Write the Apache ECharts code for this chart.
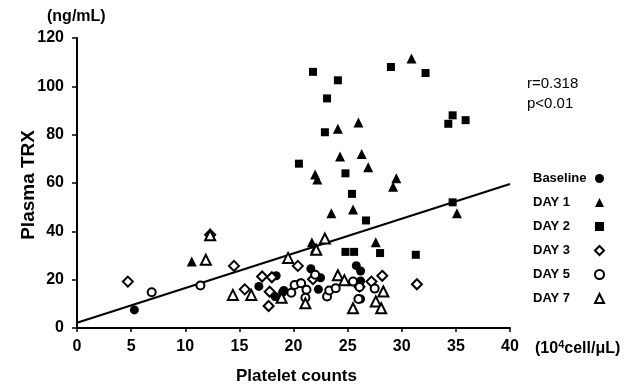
<!DOCTYPE html>
<html>
<head>
<meta charset="utf-8">
<script src="https://cdn.jsdelivr.net/npm/echarts@6/dist/echarts.min.js"></script>
<style>
  html, body { margin: 0; padding: 0; background: #fff; }
  #chart { width: 638px; height: 391px; }
</style>
</head>
<body>
<div id="chart"></div>
<script>
// platelet counts (x, 10^4 cell/uL) vs plasma TRX (y, ng/mL)
var baseline = [[5.3, 7.5], [16.8, 17.2], [18.4, 21.6], [18.3, 13], [19.1, 15.5], [20.6, 18.5],
  [21.6, 24.5], [22.5, 20.8], [22.3, 16], [25.8, 25.8], [26.2, 23.6], [26.2, 19.5], [26.2, 12], [19.0, 14.8]];
var day1 = [[10.6, 27.5], [22.0, 63.5], [22.2, 61.5], [24.1, 82.5], [26.0, 85], [24.3, 71], [26.3, 72],
  [26.9, 66.5], [30.9, 111.5], [29.5, 62], [29.2, 58.5], [25.5, 49], [23.5, 47.5], [35.1, 47.5],
  [27.6, 35.5], [21.7, 35.5], [22.0, 33]];
var day2 = [[21.8, 106], [24.1, 102.5], [23.1, 95], [22.9, 81], [20.5, 68], [29.0, 108], [32.2, 105.5],
  [34.7, 88], [34.3, 84.5], [35.9, 86], [24.8, 64], [25.4, 55.5], [26.7, 44.5], [34.7, 52],
  [24.8, 31.5], [25.6, 31.5], [28.0, 31], [31.3, 30.3]];
var day3 = [[4.7, 19.2], [12.3, 38.6], [14.5, 25.7], [15.5, 16], [17.1, 21.3], [18.0, 21], [17.8, 15],
  [17.7, 9.1], [20.4, 25.7], [21.8, 20.2], [26.1, 17.1], [27.2, 19.2], [28.2, 21.6], [31.4, 18.1]];
var day5 = [[6.9, 14.8], [11.4, 17.6], [19.8, 14.6], [20.1, 17.8], [20.7, 18.5], [21.2, 15.8], [21.1, 12.5],
  [22.0, 22], [23.1, 13], [23.3, 15.5], [23.9, 16.5], [25.5, 19.2], [26.1, 17], [26.0, 12], [27.5, 16.3]];
var day7 = [[11.9, 28.2], [12.3, 38.4], [14.4, 13.7], [16.1, 13.7], [19.5, 29], [18.9, 12.5], [21.1, 10.2],
  [22.1, 32.4], [22.9, 37], [24.1, 21.8], [24.7, 19.8], [25.5, 8.2], [27.6, 11], [28.1, 8.2], [28.3, 15.1]];
// regression line end points
var fitLine = [[0, 2.2], [40, 59.6]];

var seriesNames = ["Baseline", "DAY 1", "DAY 2", "DAY 3", "DAY 5", "DAY 7"];

var font = "'Liberation Sans', Arial, sans-serif";

var chart = echarts.init(document.getElementById("chart"), null, { renderer: "canvas" });

function pointSeries(name, data, symbol, size) {
  return {
    name: name,
    type: "scatter",
    data: data,
    symbol: symbol,
    symbolSize: size,
    itemStyle: { color: "#000", opacity: 1, borderWidth: symbol.indexOf("empty") === 0 ? 1.7 : 0 },
    z: 3
  };
}

var option = {
  animation: false,
  backgroundColor: "#fff",
  grid: { left: 77, right: 128, top: 38, bottom: 63 },
  legend: {
    orient: "vertical",
    left: 528,
    top: 167,
    align: "right",
    itemWidth: 9,
    itemHeight: 9,
    itemGap: 11,
    data: seriesNames,
    formatter: "{a|{name}}",
    textStyle: {
      rich: { a: { width: 57, align: "left", fontFamily: font, fontWeight: "bold", fontSize: 13, lineHeight: 14, color: "#000" } }
    }
  },
  xAxis: {
    type: "value",
    min: 0,
    max: 40,
    interval: 5,
    splitLine: { show: false },
    axisLine: { lineStyle: { color: "#000", width: 2 } },
    axisTick: { length: 4, lineStyle: { color: "#000", width: 1.5 } },
    axisLabel: { margin: 11, fontFamily: font, fontWeight: "bold", fontSize: 16, color: "#000" }
  },
  yAxis: {
    type: "value",
    min: 0,
    max: 120,
    interval: 20,
    splitLine: { show: false },
    axisLine: { show: true, lineStyle: { color: "#000", width: 2 } },
    axisTick: { show: true, length: 5, lineStyle: { color: "#000", width: 1.5 } },
    axisLabel: { margin: 13, fontFamily: font, fontWeight: "bold", fontSize: 16, color: "#000" }
  },
  graphic: [
    { type: "text", left: 47, top: 9, style: { text: "(ng/mL)", font: "bold 16px " + font, fill: "#000" } },
    { type: "text", left: 19, top: 130, rotation: Math.PI / 2,
      style: { text: "Plasma TRX", font: "bold 19px " + font, fill: "#000" } },
    { type: "text", left: 236, top: 368, style: { text: "Platelet counts", font: "bold 17px " + font, fill: "#000" } },
    { type: "text", left: 535, top: 339,
      style: {
        text: "{a|(10}{s|4}{a|cell/μL)}",
        rich: {
          a: { font: "bold 16px " + font, fill: "#000", lineHeight: 20 },
          s: { font: "bold 11px " + font, fill: "#000", padding: [0, 0, 9, 0] }
        }
      } },
    { type: "text", left: 527, top: 74, style: { text: "r=0.318\np<0.01", font: "15px " + font, fill: "#000", lineHeight: 20 } }
  ],
  series: [
    pointSeries("Baseline", baseline, "circle", 9),
    pointSeries("DAY 1", day1, "triangle", 10),
    pointSeries("DAY 2", day2, "rect", 8),
    pointSeries("DAY 3", day3, "emptyDiamond", 10),
    pointSeries("DAY 5", day5, "emptyCircle", 8),
    pointSeries("DAY 7", day7, "emptyTriangle", 10),
    {
      name: "fit",
      type: "line",
      data: fitLine,
      showSymbol: false,
      symbol: "none",
      lineStyle: { color: "#000", width: 2 },
      z: 2
    }
  ]
};

chart.setOption(option);
window.addEventListener("resize", chart.resize);
</script>
</body>
</html>
